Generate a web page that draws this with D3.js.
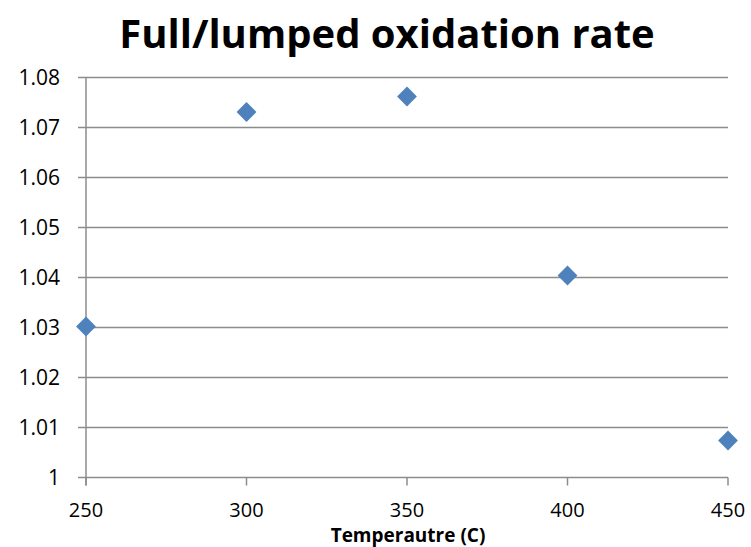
<!DOCTYPE html>
<html>
<head>
<meta charset="utf-8">
<script src="https://cdn.jsdelivr.net/npm/d3@7"></script>
<style>
  body { margin: 0; background: #fff; }
  svg { display: block; font-family: "Open Sans", "Noto Sans", sans-serif; }
</style>
</head>
<body>
<svg id="drawing_region"></svg>
<script>
const temperatures = [250, 300, 350, 400, 450];
const rates = [1.0302, 1.0731, 1.0762, 1.0404, 1.0074];
const x_ticks = [250, 300, 350, 400, 450];
const y_ticks = [1, 1.01, 1.02, 1.03, 1.04, 1.05, 1.06, 1.07, 1.08];

const width = 751, height = 547;
const margin = {top: 77.5, right: 23, bottom: 69.5, left: 86};
const inner_width = width - margin.left - margin.right;
const inner_height = height - margin.top - margin.bottom;

const svg = d3.select('#drawing_region')
    .attr('width', width)
    .attr('height', height);

const xscale = d3.scaleLinear().domain([250, 450]).range([0, inner_width]);
const yscale = d3.scaleLinear().domain([1, 1.08]).range([inner_height, 0]);

const chart = svg.append('g')
    .attr('transform', `translate(${margin.left},${margin.top})`);

const grid_color = '#8c8c8c';

// horizontal gridlines with outward tick
chart.selectAll('.grid')
    .data(y_ticks)
    .enter()
    .append('line')
    .attr('x1', -8)
    .attr('x2', inner_width)
    .attr('y1', d => yscale(d))
    .attr('y2', d => yscale(d))
    .attr('stroke', grid_color)
    .attr('stroke-width', 1.5);

// y axis line
chart.append('line')
    .attr('x1', 0).attr('x2', 0)
    .attr('y1', 0).attr('y2', inner_height + 8)
    .attr('stroke', grid_color)
    .attr('stroke-width', 1.5);

// x ticks
chart.selectAll('.xtick')
    .data(x_ticks)
    .enter()
    .append('line')
    .attr('x1', d => xscale(d))
    .attr('x2', d => xscale(d))
    .attr('y1', inner_height)
    .attr('y2', inner_height + 8)
    .attr('stroke', grid_color)
    .attr('stroke-width', 1.5);

// y tick labels
chart.selectAll('.ylabel')
    .data(y_ticks)
    .enter()
    .append('text')
    .attr('x', -26)
    .attr('y', d => yscale(d))
    .attr('dy', '0.36em')
    .attr('text-anchor', 'end')
    .style('font-size', '21px')
    .text(d => d3.format('')(d));

// x tick labels
chart.selectAll('.xlabel')
    .data(x_ticks)
    .enter()
    .append('text')
    .attr('x', d => xscale(d))
    .attr('y', inner_height + 39.5)
    .attr('text-anchor', 'middle')
    .style('font-size', '20px')
    .text(d => d);

// diamonds
chart.selectAll('.point')
    .data(temperatures)
    .enter()
    .append('rect')
    .attr('x', -7)
    .attr('y', -7)
    .attr('width', 14)
    .attr('height', 14)
    .attr('fill', '#4f81bd')
    .attr('transform', (d, i) => `translate(${xscale(d)},${yscale(rates[i])}) rotate(45)`);

// title
svg.append('text')
    .attr('x', 387)
    .attr('y', 48)
    .attr('text-anchor', 'middle')
    .style('font-size', '40px')
    .style('font-weight', 'bold')
    .text('Full/lumped oxidation rate');

// x axis title
svg.append('text')
    .attr('x', 408)
    .attr('y', 542)
    .attr('text-anchor', 'middle')
    .style('font-size', '19px')
    .style('font-weight', 'bold')
    .text('Temperautre (C)');
</script>
</body>
</html>
